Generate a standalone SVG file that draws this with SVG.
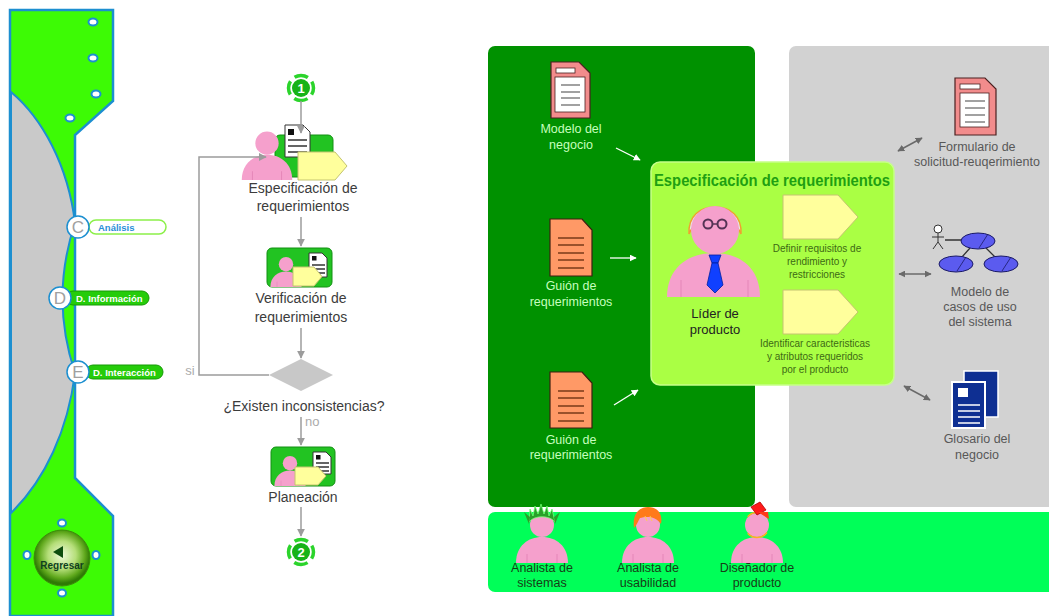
<svg xmlns="http://www.w3.org/2000/svg" width="1049" height="616" viewBox="0 0 1049 616">
  <defs>
    <style>
      text{font-family:"Liberation Sans",Arial,sans-serif}
      .flow{font-size:14px;fill:#3c3c3c;text-anchor:middle}
      .conn{stroke:#9c9c9c;stroke-width:1.5;fill:none}
      .doc-lbl{font-size:12.5px;fill:#c6ffbe;text-anchor:middle}
      .gray-lbl{font-size:12.5px;fill:#585858;text-anchor:middle}
      .role{font-size:12.5px;fill:#173d17;text-anchor:middle}
      .task{font-size:10px;fill:#3d6a14;text-anchor:middle}
      .lead{font-size:13px;fill:#222;text-anchor:middle}
      .tag{fill:#ffff9c;stroke:#c4c470;stroke-width:1}
      .stage{fill:#22c322;stroke:#129012;stroke-width:1}
      .paper{fill:#fff;stroke:#333;stroke-width:1}
      .ink{stroke:#333;stroke-width:1.3}
      .dot{fill:#fff;stroke:#1c8fd0;stroke-width:2}
      .letter{fill:#fff;stroke:#1c8fd0;stroke-width:1.5}
      .letter-t{font-size:17px;fill:#a0a0a0;text-anchor:middle}
      .pill-t{font-size:9.5px;font-weight:bold;fill:#fff}
      .ring{fill:none;stroke:#2bd42b;stroke-width:3.5;stroke-dasharray:14 5.6;stroke-dashoffset:7}
      .white-arrow{stroke:#fff;stroke-width:1.3;fill:none}
      .gray-arrow{stroke:#6a6a6a;stroke-width:1.5;fill:none}
      .uc{fill:#5b5bef;stroke:#1a1a66;stroke-width:1}
    </style>
    <marker id="ah-gray" viewBox="0 0 10 10" refX="9" refY="5" markerWidth="8" markerHeight="8" markerUnits="userSpaceOnUse" orient="auto">
      <path d="M0,0 L10,5 L0,10 Z" fill="#9c9c9c"/>
    </marker>
    <marker id="ah-white" viewBox="0 0 10 10" refX="9" refY="5" markerWidth="7" markerHeight="7" markerUnits="userSpaceOnUse" orient="auto">
      <path d="M0,0 L10,5 L0,10 Z" fill="#fff"/>
    </marker>
    <marker id="ah-dark" viewBox="0 0 10 10" refX="9" refY="5" markerWidth="7" markerHeight="7" markerUnits="userSpaceOnUse" orient="auto-start-reverse">
      <path d="M0,0 L10,5 L0,10 Z" fill="#6a6a6a"/>
    </marker>
    <radialGradient id="btn" cx="50%" cy="45%" r="50%">
      <stop offset="0" stop-color="#eef9da"/>
      <stop offset="0.5" stop-color="#b4de78"/>
      <stop offset="0.82" stop-color="#5fa81c"/>
      <stop offset="1" stop-color="#2f7a05"/>
    </radialGradient>
    <!-- generic person: base of body at origin -->
    <g id="person">
      <path d="M-26,0 C-26,-17 -14,-26 0,-26 C14,-26 26,-17 26,0 Z" fill="#f5a0cc"/>
      <circle cx="0" cy="-38" r="12" fill="#f5a0cc"/>
      <path d="M-15,-9 V0 M15,-9 V0" stroke="#e486b8" stroke-width="1" fill="none"/>
    </g>
  </defs>

  <!-- navigation side bar -->
  <g id="sidebar">
    <path d="M10,10 H113 V101 L75,135 V478 L113,516 V616 H10 Z" fill="#3dfb05" stroke="#1c8fd0" stroke-width="2.5"/>
    <path d="M11,92 C42,118 68,165 75,223 Q50,298 75,373 C68,430 45,480 11,513 Z" fill="#c9c9c9" stroke="#1c8fd0" stroke-width="2"/>
    <ellipse class="dot" cx="93" cy="22" rx="4.5" ry="3.5"/>
    <ellipse class="dot" cx="93" cy="58" rx="4.5" ry="3.5"/>
    <ellipse class="dot" cx="96" cy="94" rx="4.5" ry="3.5"/>
    <ellipse class="dot" cx="70" cy="118" rx="4.5" ry="3.5"/>
    <ellipse class="dot" cx="62" cy="523" rx="4" ry="3.5"/>
    <ellipse class="dot" cx="27" cy="555" rx="3.5" ry="4"/>
    <ellipse class="dot" cx="96" cy="555" rx="3.5" ry="4"/>
    <ellipse class="dot" cx="62" cy="593" rx="4" ry="3.5"/>
  </g>

  <g id="nav-analisis">
    <rect x="89" y="220" width="77" height="14" rx="7" fill="#fff" stroke="#8cf04a" stroke-width="1.5"/>
    <text x="98" y="230.5" class="pill-t" style="fill:#2a8fd8">Análisis</text>
    <circle class="letter" cx="78" cy="227" r="11"/>
    <text class="letter-t" x="78" y="233">C</text>
  </g>
  <g id="nav-informacion">
    <rect x="66" y="291" width="83" height="14" rx="7" fill="#25cc0a" stroke="#169a06" stroke-width="1"/>
    <text x="76" y="301.5" class="pill-t">D. Información</text>
    <circle class="letter" cx="60" cy="298" r="11"/>
    <text class="letter-t" x="60" y="304">D</text>
  </g>
  <g id="nav-interaccion">
    <rect x="86" y="365" width="77" height="14" rx="7" fill="#25cc0a" stroke="#169a06" stroke-width="1"/>
    <text x="93" y="375.5" class="pill-t">D. Interacción</text>
    <circle class="letter" cx="78" cy="372" r="11"/>
    <text class="letter-t" x="78" y="378">E</text>
  </g>
  <g id="btn-regresar">
    <circle cx="62" cy="558" r="28" fill="url(#btn)" stroke="#3d8c0a" stroke-width="1"/>
    <path d="M53,552 L63,546 V558 Z" fill="#0e4d0e"/>
    <text x="62" y="569" font-size="10" font-weight="bold" fill="#0f3f1f" text-anchor="middle">Regresar</text>
  </g>

  <!-- process flow -->
  <g id="start">
    <circle class="ring" cx="301" cy="88" r="12.5"/>
    <circle cx="301" cy="88" r="9" fill="#17b317"/>
    <text x="301" y="93" font-size="13" font-weight="bold" fill="#fff" text-anchor="middle">1</text>
  </g>

  <g id="especificacion">
    <rect class="stage" x="275" y="135" width="58" height="42" rx="5"/>
    <use href="#person" transform="translate(267,180) scale(0.97)"/>
    <path class="paper" d="M285,125 H303 L310,132 V157 H285 Z"/>
    <rect x="288" y="129" width="6" height="6" fill="#111"/>
    <path class="ink" d="M288,140 H307 M288,146 H307 M288,152 H307"/>
    <path class="tag" d="M298,152 H335 L347,166 L335,180 H298 Z"/>
    <text class="flow" x="303" y="193">Especificación de</text>
    <text class="flow" x="303" y="211">requerimientos</text>
  </g>

  <g id="verificacion">
    <rect class="stage" x="267" y="248" width="65" height="39" rx="5"/>
    <use href="#person" transform="translate(286,287) scale(0.6)"/>
    <path class="paper" d="M309,253 H322 L327,258 V277 H309 Z"/>
    <rect x="312" y="256" width="4.5" height="4.5" fill="#111"/>
    <path class="ink" d="M312,265 H325 M312,269 H325 M312,273 H325" stroke-width="1"/>
    <path class="tag" d="M293,267 H314 L322,276.5 L314,286 H293 Z"/>
    <text class="flow" x="301" y="303">Verificación de</text>
    <text class="flow" x="301" y="322">requerimientos</text>
  </g>

  <g id="decision">
    <path d="M301,359 L333,375 L301,391 L269,375 Z" fill="#c8c8c8"/>
    <text class="flow" x="304" y="411">¿Existen inconsistencias?</text>
  </g>

  <g id="planeacion">
    <rect class="stage" x="271" y="447" width="64" height="39" rx="5"/>
    <use href="#person" transform="translate(290,486) scale(0.6)"/>
    <path class="paper" d="M313,452 H326 L331,457 V474 H313 Z"/>
    <rect x="316" y="455" width="4.5" height="4.5" fill="#111"/>
    <path class="ink" d="M316,463 H329 M316,467 H329 M316,471 H329" stroke-width="1"/>
    <path class="tag" d="M295,467 H318 L326,476 L318,485 H295 Z"/>
    <text class="flow" x="303" y="502">Planeación</text>
  </g>

  <g id="end">
    <circle class="ring" cx="301" cy="552" r="12.5"/>
    <circle cx="301" cy="552" r="9" fill="#17b317"/>
    <text x="301" y="557" font-size="13" font-weight="bold" fill="#fff" text-anchor="middle">2</text>
  </g>

  <!-- activity detail panels -->
  <g id="panels">
    <rect x="488" y="46" width="267" height="461" rx="7" fill="#009100"/>
    <rect x="789" y="46" width="270" height="461" rx="7" fill="#d2d2d2"/>
    <rect x="488" y="512" width="575" height="80" rx="7" fill="#00ff58"/>
  </g>

  <g id="modelo-negocio">
    <path d="M551,62 H579 L590,73 V118 H551 Z" fill="#f28c8c" stroke="#4a2020" stroke-width="1.2"/>
    <rect x="556" y="68" width="19" height="5" fill="#fff" stroke="#4a2020" stroke-width="0.8"/>
    <rect x="555" y="77" width="30" height="35" fill="#fff" stroke="#4a2020" stroke-width="0.8"/>
    <path d="M561,85 H580 M561,92 H580 M561,98 H580 M561,105 H580" stroke="#444" stroke-width="1.2"/>
    <text class="doc-lbl" x="571" y="133">Modelo del</text>
    <text class="doc-lbl" x="571" y="149">negocio</text>
  </g>

  <g id="guion-1">
    <path d="M550,219 H582 L592,230 V276 H550 Z" fill="#ff9966" stroke="#3a2010" stroke-width="1.2"/>
    <path d="M558,238 H584 M558,245 H584 M558,253 H584 M558,260 H584 M558,268 H584" stroke="#7a3a18" stroke-width="1.3"/>
    <text class="doc-lbl" x="571" y="290">Guión de</text>
    <text class="doc-lbl" x="571" y="306">requerimientos</text>
  </g>

  <g id="guion-2">
    <path d="M550,372 H582 L592,383 V428 H550 Z" fill="#ff9966" stroke="#3a2010" stroke-width="1.2"/>
    <path d="M558,391 H584 M558,398 H584 M558,406 H584 M558,413 H584 M558,421 H584" stroke="#7a3a18" stroke-width="1.3"/>
    <text class="doc-lbl" x="571" y="444">Guión de</text>
    <text class="doc-lbl" x="571" y="459">requerimientos</text>
  </g>

  <g id="especificacion-detalle">
    <rect x="651" y="162" width="243" height="223" rx="9" fill="#aaff44" stroke="#c6ff88" stroke-width="1.5"/>
    <text x="772" y="186" font-size="17" font-weight="bold" fill="#1f9f12" text-anchor="middle" textLength="236" lengthAdjust="spacingAndGlyphs">Especificación de requerimientos</text>
  </g>

  <g id="lider-producto">
    <path d="M689,234 C688,216 700,207 715,207 C730,207 742,216 741,234 C738,226 732,221 715,220 C698,221 692,226 689,234 Z" fill="#e6e6e2" stroke="#f0a030" stroke-width="1.5"/>
    <path d="M667,297 C667,268 688,253 714,253 C740,253 760,268 760,297 Z" fill="#f5a0cc"/>
    <circle cx="715" cy="230" r="24" fill="#f5a0cc"/>
    <circle cx="708" cy="224" r="4.5" fill="none" stroke="#553355" stroke-width="2"/>
    <circle cx="722" cy="224" r="4.5" fill="none" stroke="#553355" stroke-width="2"/>
    <path d="M712.5,224 H717.5" stroke="#553355" stroke-width="1.5"/>
    <path d="M681,280 V297 M748,280 V297" stroke="#e486b8" stroke-width="1" fill="none"/>
    <path d="M709,255 H721 L718,263 H712 Z" fill="#1040ff" stroke="#0020a0" stroke-width="0.8"/>
    <path d="M712,263 H718 L723,285 L715,293 L707,285 Z" fill="#1040ff" stroke="#0020a0" stroke-width="0.8"/>
    <text class="lead" x="715" y="318">Líder de</text>
    <text class="lead" x="715" y="334">producto</text>
  </g>

  <g id="tarea-rendimiento">
    <path class="tag" d="M783,195 H838 L858,217 L838,239 H783 Z"/>
    <text class="task" x="817" y="252">Definir requisitos de</text>
    <text class="task" x="817" y="265">rendimiento y</text>
    <text class="task" x="817" y="278">restricciones</text>
  </g>

  <g id="tarea-atributos">
    <path class="tag" d="M783,290 H838 L858,312 L838,334 H783 Z"/>
    <text class="task" x="815" y="347">Identificar caracteristicas</text>
    <text class="task" x="815" y="360">y atributos requeridos</text>
    <text class="task" x="815" y="373">por el producto</text>
  </g>

  <g id="formulario">
    <path d="M955,78 H985 L996,89 V135 H955 Z" fill="#f28c8c" stroke="#4a2020" stroke-width="1.2"/>
    <rect x="960" y="84" width="20" height="5" fill="#fff" stroke="#4a2020" stroke-width="0.8"/>
    <rect x="960" y="93" width="29" height="34" fill="#fff" stroke="#4a2020" stroke-width="0.8"/>
    <path d="M965,101 H985 M965,108 H985 M965,115 H985 M965,122 H985" stroke="#444" stroke-width="1.2"/>
    <text class="gray-lbl" x="977" y="151">Formulario de</text>
    <text class="gray-lbl" x="977" y="166">solicitud-reuqerimiento</text>
  </g>

  <g id="casos-uso">
    <circle cx="938" cy="229" r="4" fill="#fff" stroke="#333" stroke-width="1"/>
    <path d="M938,233 V242 M932,237 H944 M938,242 L933,249 M938,242 L943,249" stroke="#333" stroke-width="1" fill="none"/>
    <path d="M945,240 H962 M970,248 L962,257 M986,248 L995,257" stroke="#333" stroke-width="1.3"/>
    <ellipse class="uc" cx="978" cy="241" rx="17" ry="8"/>
    <ellipse class="uc" cx="956" cy="264" rx="17" ry="8"/>
    <ellipse class="uc" cx="1001" cy="264" rx="17" ry="8"/>
    <path d="M979,248 L988,234 M957,271 L966,257 M1002,271 L1011,257" stroke="#1a1a66" stroke-width="0.8"/>
    <text class="gray-lbl" x="980" y="296">Modelo de</text>
    <text class="gray-lbl" x="980" y="311">casos de uso</text>
    <text class="gray-lbl" x="980" y="326">del sistema</text>
  </g>

  <g id="glosario">
    <rect x="964" y="371" width="34" height="46" fill="#0e2f92" stroke="#fff" stroke-width="1.5"/>
    <rect x="952" y="382" width="33" height="46" fill="#0e2f92" stroke="#fff" stroke-width="2"/>
    <rect x="958" y="388" width="10" height="9" fill="#fff"/>
    <path d="M958,405 H980 M958,411 H980 M958,417 H980 M958,423 H980" stroke="#fff" stroke-width="1.5"/>
    <text class="gray-lbl" x="977" y="443">Glosario del</text>
    <text class="gray-lbl" x="977" y="459">negocio</text>
  </g>

  <g id="analista-sistemas">
    <use href="#person" transform="translate(542,563)"/>
    <path d="M529,522 L530,509 L533,516 L535,506 L538,514 L541,504 L544,514 L547,506 L549,516 L552,509 L555,522 C550,515 534,515 529,522 Z" fill="#2aa02a" stroke="#6dff6d" stroke-width="0.8"/>
    <path d="M530,517 L524,512 L529,524 Z M554,517 L560,512 L555,524 Z" fill="#2aa02a"/>
    <text class="role" x="542" y="572">Analista de</text>
    <text class="role" x="542" y="587">sistemas</text>
  </g>

  <g id="analista-usabilidad">
    <use href="#person" transform="translate(648,563)"/>
    <path d="M634,528 C632,513 640,507 648,507 C657,507 663,513 661,524 C656,516 646,516 640,518 C638,521 637,525 634,528 Z" fill="#ff7a1a"/>
    <path d="M645,516 L647,521 M650,516 L652,521" stroke="#ffd24a" stroke-width="1"/>
    <text class="role" x="648" y="572">Analista de</text>
    <text class="role" x="648" y="587">usabilidad</text>
  </g>

  <g id="disenador-producto">
    <use href="#person" transform="translate(757,563)"/>
    <circle cx="757" cy="525" r="12.5" fill="none" stroke="#ffb020" stroke-width="1.5" stroke-dasharray="22 18" stroke-dashoffset="-8"/>
    <path d="M751,507 L760,502 L766,510 L757,515 Z" fill="#ff1a1a" stroke="#b00000" stroke-width="0.8"/>
    <path d="M758,512 L768,512 L769,519 Z" fill="#ff3a1a"/>
    <text class="role" x="757" y="572">Diseñador de</text>
    <text class="role" x="757" y="587">producto</text>
  </g>

  <!-- connectors -->
  <g id="connectors">
    <path class="conn" d="M301,101 V133" marker-end="url(#ah-gray)"/>
    <path class="conn" d="M301,217 V246" marker-end="url(#ah-gray)"/>
    <path class="conn" d="M301,328 V358" marker-end="url(#ah-gray)"/>
    <path class="conn" d="M269,375 H199 V157 H266" marker-end="url(#ah-gray)"/>
    <path class="conn" d="M301,417 V445" marker-end="url(#ah-gray)"/>
    <path class="conn" d="M301,507 V536" marker-end="url(#ah-gray)"/>
    <text x="190" y="375" font-size="13" fill="#ababab" text-anchor="middle">si</text>
    <text x="305" y="426" font-size="13" fill="#ababab">no</text>

    <path class="white-arrow" d="M616,148 L640,160" marker-end="url(#ah-white)"/>
    <path class="white-arrow" d="M610,258 H636" marker-end="url(#ah-white)"/>
    <path class="white-arrow" d="M614,405 L638,390" marker-end="url(#ah-white)"/>

    <path class="gray-arrow" d="M898,151 L922,138" marker-start="url(#ah-dark)" marker-end="url(#ah-dark)"/>
    <path class="gray-arrow" d="M899,274 H931" marker-start="url(#ah-dark)" marker-end="url(#ah-dark)"/>
    <path class="gray-arrow" d="M904,386 L930,400" marker-start="url(#ah-dark)" marker-end="url(#ah-dark)"/>
  </g>
</svg>
